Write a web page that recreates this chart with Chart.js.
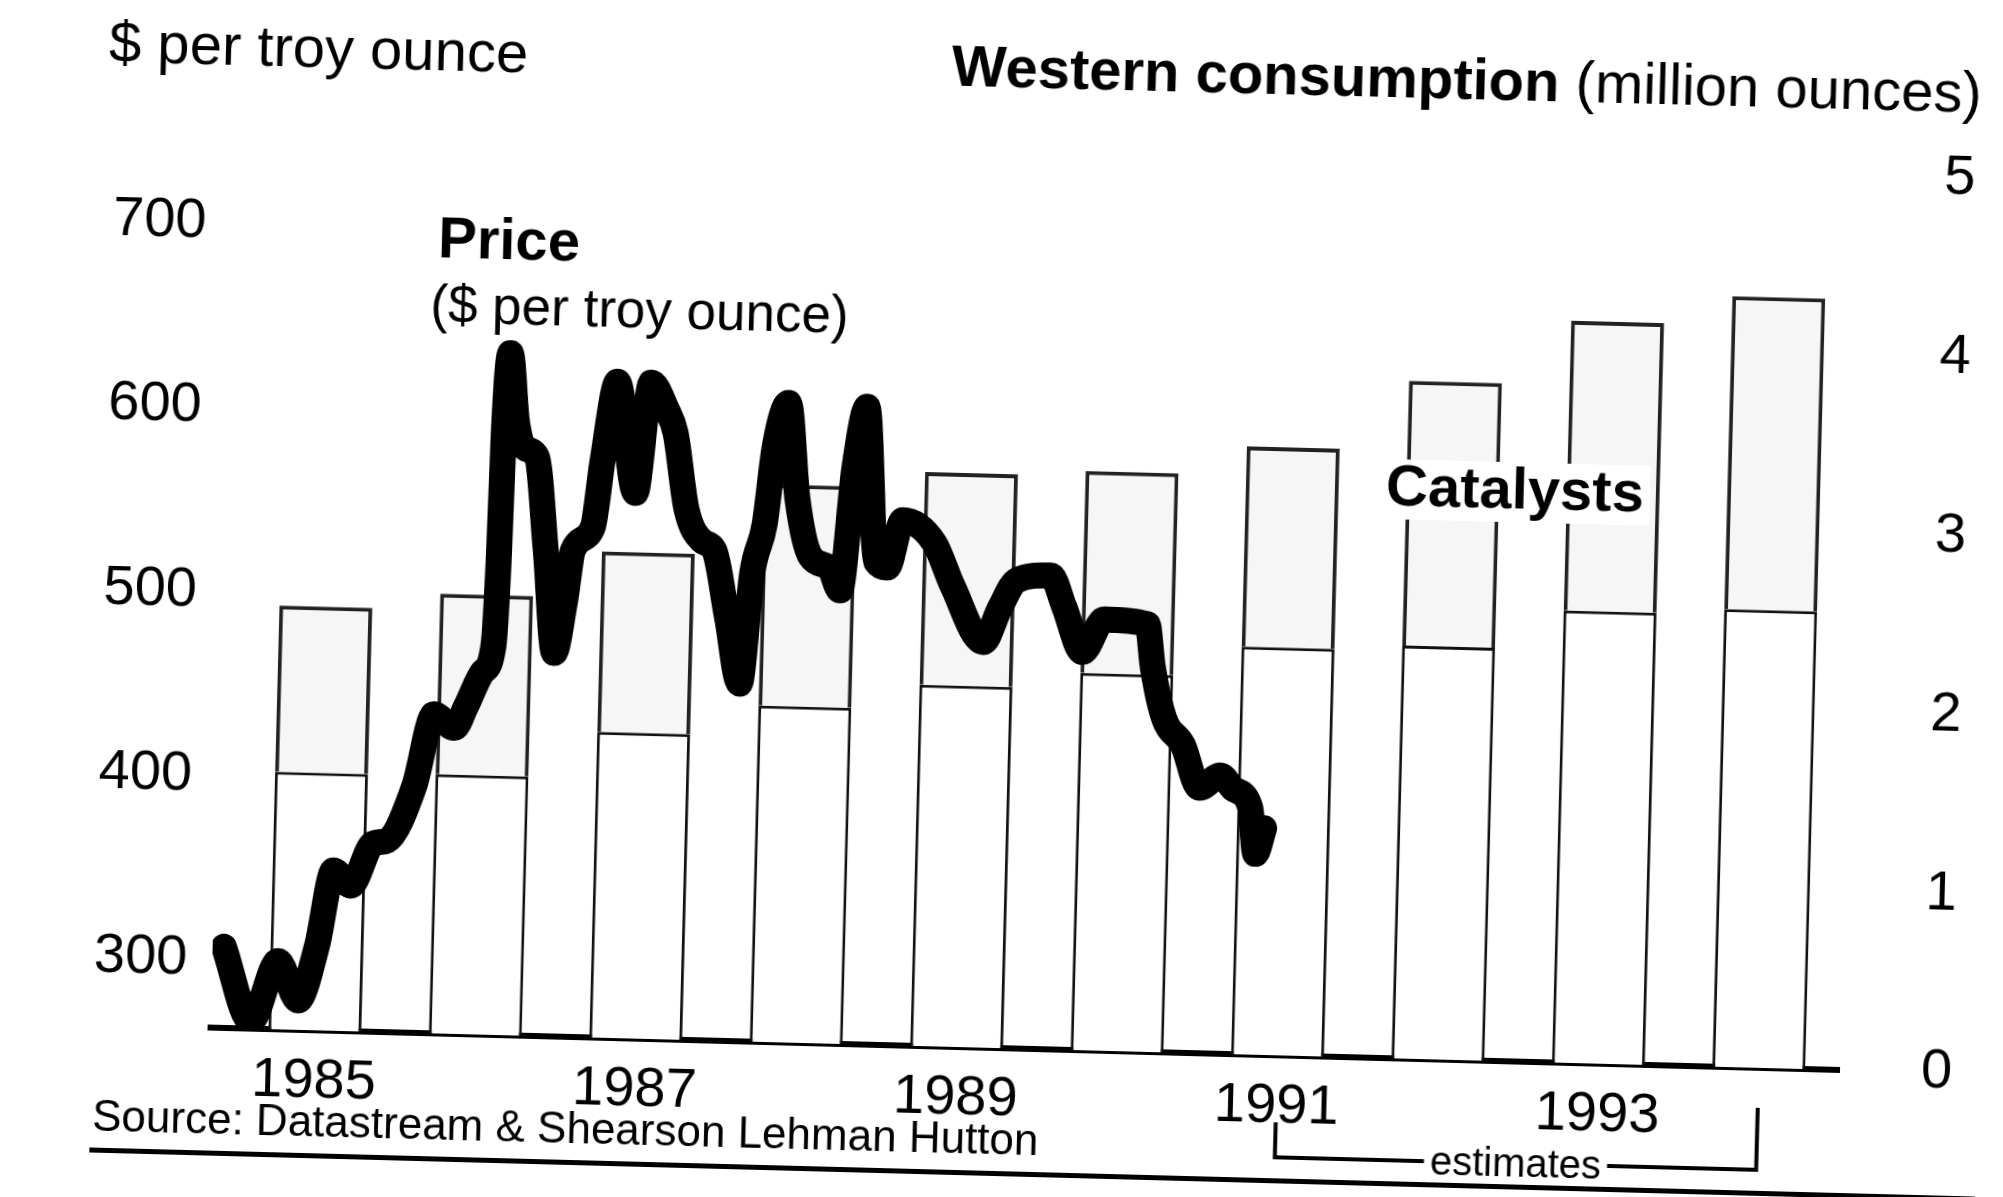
<!DOCTYPE html>
<html>
<head>
<meta charset="utf-8">
<title>Platinum</title>
<script src="https://cdn.jsdelivr.net/npm/chart.js@4.4.0/dist/chart.umd.min.js"></script>
<style>
html, body { margin: 0; padding: 0; background: #fff; overflow: hidden; }
/* the printed chart sits slightly skewed on the page */
#wrap { position: absolute; left: 0; top: 0; width: 2003px; height: 1197px;
        transform: rotate(1.49deg); transform-origin: 1001px 598px; }
canvas { display: block; }
</style>
</head>
<body>
<div id="wrap"><canvas id="platinum" width="2003" height="1197"></canvas></div>
<script>
// Western consumption, million ounces (stacked: other uses + catalysts)
var barYears   = [1985, 1986, 1987, 1988, 1989, 1990, 1991, 1992, 1993, 1994];
var otherUse   = [1.44, 1.45, 1.71, 1.88, 2.02, 2.11, 2.28, 2.31, 2.53, 2.56];
var catalysts  = [0.93, 1.01, 1.01, 1.24, 1.19, 1.13, 1.12, 1.48, 1.62, 1.75];

// axis ticks
var labelYears       = [1985, 1987, 1989, 1991, 1993];
var priceTicks       = [300, 400, 500, 600, 700];
var consumptionTicks = [0, 1, 2, 3, 4, 5];

// price, $ per troy ounce (decimal year / value)
var priceDates  = [1984.92, 1985.10, 1985.26, 1985.39, 1985.50, 1985.59, 1985.70, 1985.83, 1985.92,
                   1986.08, 1986.19, 1986.32, 1986.39, 1986.49, 1986.55, 1986.57, 1986.58, 1986.61,
                   1986.66, 1986.71, 1986.79, 1986.86, 1986.93, 1986.99, 1987.03, 1987.15, 1987.20,
                   1987.28, 1987.41, 1987.49, 1987.59, 1987.65, 1987.73, 1987.83, 1987.91, 1988.00,
                   1988.09, 1988.15, 1988.22, 1988.27, 1988.35, 1988.42, 1988.51, 1988.63, 1988.70,
                   1988.77, 1988.84, 1988.92, 1988.99, 1989.08, 1989.28, 1989.40, 1989.60, 1989.70,
                   1989.80, 1990.01, 1990.10, 1990.22, 1990.35, 1990.62, 1990.66, 1990.74, 1990.86,
                   1990.97, 1991.10, 1991.18, 1991.29, 1991.33, 1991.38];
var priceValues = [307, 267, 300, 279, 309, 350, 342, 365, 367,
                   397, 436, 429, 441, 460, 474, 526, 589, 633,
                   596, 582, 577, 527, 471, 500, 527, 540, 576,
                   619, 559, 619, 605, 592, 551, 534, 529, 493,
                   457, 517, 544, 586, 610, 558, 527, 521, 509,
                   576, 609, 525, 522, 548, 536, 513, 483, 502,
                   517, 520, 503, 479, 497, 495, 472, 444, 430,
                   407, 414, 407, 397, 372, 386];

var FONT = "'Liberation Sans', Arial, Helvetica, sans-serif";
function font(size, bold) { return (bold ? 'bold ' : '') + size + 'px ' + FONT; }

var pricePoints = priceDates.map(function(d, i) { return {x: d, y: priceValues[i]}; });
var otherBars = barYears.map(function(yr, i) { return {x: yr + 0.5, y: otherUse[i]}; });
var catalystBars = barYears.map(function(yr, i) { return {x: yr + 0.5, y: catalysts[i]}; });

// titles, notes, source line and the estimates bracket
var annotations = {
	id: 'annotations',
	afterDraw: function(chart) {
		var c = chart.ctx, xs = chart.scales.x;
		c.save();
		c.fillStyle = '#000';
		c.strokeStyle = '#000';
		c.textBaseline = 'middle';
		c.textAlign = 'left';

		c.font = font(58);
		c.fillText('$ per troy ounce', 95, 69);

		c.font = font(58, true);
		var w1 = c.measureText('Western consumption ').width;
		c.fillText('Western consumption ', 938, 71);
		c.font = font(58);
		c.fillText('(million ounces)', 938 + w1, 71);

		c.font = font(58, true);
		c.fillText('Price', 429, 256);
		c.font = font(53);
		c.fillText('($ per troy ounce)', 423, 322);

		// catalysts label knocked out of the bars
		c.font = font(58, true);
		var cw = c.measureText('Catalysts').width;
		c.fillStyle = '#fff';
		c.fillRect(1377, 449, cw + 12, 60);
		c.fillStyle = '#000';
		c.fillText('Catalysts', 1383, 479);

		// source
		c.font = font(44);
		c.fillText('Source: Datastream & Shearson Lehman Hutton', 106, 1142);
		c.fillRect(104, 1171, 1886, 5);

		// estimates bracket
		var x0 = xs.getPixelForValue(1991.5), x1 = xs.getPixelForValue(1994.5);
		c.font = font(40);
		var ew = c.measureText('estimates').width, mid = (x0 + x1) / 2;
		c.lineWidth = 4;
		c.beginPath();
		c.moveTo(x0, 1115); c.lineTo(x0, 1150); c.lineTo(mid - ew / 2 - 6, 1150);
		c.moveTo(mid + ew / 2 + 6, 1150); c.lineTo(x1, 1150); c.lineTo(x1, 1088);
		c.stroke();
		c.textAlign = 'center';
		c.fillText('estimates', mid, 1152);
		c.restore();
	}
};

Chart.defaults.color = '#000';

new Chart(document.getElementById('platinum'), {
	data: {
		datasets: [
			{
				type: 'line',
				label: 'Price',
				data: pricePoints,
				xAxisID: 'x',
				yAxisID: 'y',
				borderColor: '#000',
				borderWidth: 26,
				borderCapStyle: 'round',
				borderJoinStyle: 'round',
				pointRadius: 0,
				cubicInterpolationMode: 'monotone',
				fill: false,
				order: 0
			},
			{
				type: 'bar',
				label: 'Other',
				data: otherBars,
				xAxisID: 'x',
				yAxisID: 'y2',
				backgroundColor: '#fff',
				borderColor: '#111',
				borderWidth: 3,
				categoryPercentage: 1,
				barPercentage: 0.58,
				order: 1
			},
			{
				type: 'bar',
				label: 'Catalysts',
				data: catalystBars,
				xAxisID: 'x',
				yAxisID: 'y2',
				backgroundColor: '#f6f6f6',
				borderColor: '#222',
				borderWidth: 4,
				categoryPercentage: 1,
				barPercentage: 0.58,
				order: 2
			}
		]
	},
	options: {
		responsive: false,
		animation: false,
		layout: { padding: { top: 154, left: 0, right: 0, bottom: 0 } },
		plugins: { legend: { display: false }, tooltip: { enabled: false } },
		scales: {
			x: {
				type: 'linear',
				min: 1984.85,
				max: 1995.0,
				offset: false,
				stacked: true,
				grid: { display: false, drawTicks: false, offset: false },
				border: { display: true, color: '#000', width: 6 },
				afterBuildTicks: function(s) {
					s.ticks = labelYears.map(function(y) { return {value: y + 0.5}; });
				},
				afterFit: function(s) { s.height = 149; },
				ticks: {
					autoSkip: false,
					maxRotation: 0,
					padding: 18,
					font: { family: FONT, size: 56 },
					callback: function(v) { return String(Math.floor(v)); }
				}
			},
			y: {
				position: 'left',
				min: 263,
				max: 748,
				grid: { display: false, drawTicks: false },
				border: { display: false },
				afterBuildTicks: function(s) {
					s.ticks = priceTicks.map(function(v) { return {value: v}; });
				},
				afterFit: function(s) { s.width = 222; },
				ticks: { padding: 25, font: { family: FONT, size: 56 } }
			},
			y2: {
				position: 'right',
				min: 0,
				max: 5,
				stacked: true,
				grid: { display: false, drawTicks: false },
				border: { display: false },
				afterBuildTicks: function(s) {
					s.ticks = consumptionTicks.map(function(v) { return {value: v}; });
				},
				afterFit: function(s) { s.width = 152; },
				ticks: { padding: 82, font: { family: FONT, size: 56 } }
			}
		}
	},
	plugins: [annotations]
});
</script>
</body>
</html>
